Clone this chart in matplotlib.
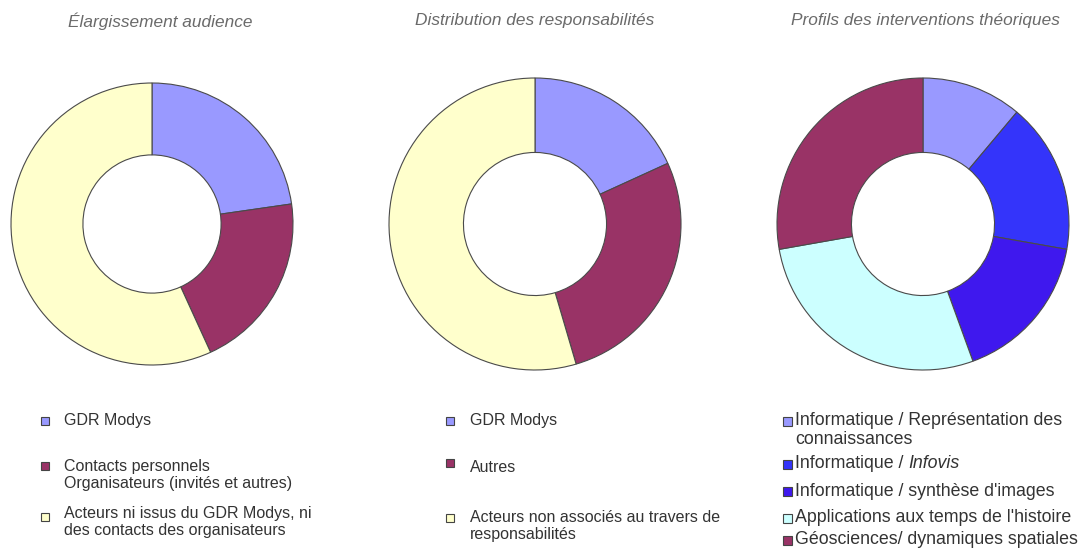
import matplotlib.pyplot as plt
from matplotlib.patches import Rectangle

W, H = 1082, 548

titles = ['Élargissement audience', 'Distribution des responsabilités',
          'Profils des interventions théoriques']

audience_labels = ['GDR Modys',
                   'Contacts personnels\nOrganisateurs (invités et autres)',
                   'Acteurs ni issus du GDR Modys, ni\ndes contacts des organisateurs']
audience_values = [10, 9, 25]

resp_labels = ['GDR Modys', 'Autres',
               'Acteurs non associés au travers de\nresponsabilités']
resp_values = [2, 3, 6]

profil_labels = ['Informatique / Représentation des\nconnaissances',
                 'Informatique / ',
                 'Informatique / synthèse d\'images',
                 'Applications aux temps de l\'histoire',
                 'Géosciences/ dynamiques spatiales']
profil_values = [2, 3, 3, 5, 5]

colors3 = ['#9999FF', '#993366', '#FFFFCC']
colors5 = ['#9999FF', '#3434FA', '#3F18EE', '#CCFFFF', '#993366']

plt.rcParams['font.family'] = ['Liberation Sans', 'DejaVu Sans']

fig = plt.figure(figsize=(W / 100, H / 100), dpi=100)


def fx(x):
    return x / W


def fy(y):
    return 1 - y / H


def donut(cx, cy, r, values, colors):
    pad = 1.03
    w = 2 * r * pad
    ax = fig.add_axes([fx(cx - w / 2), fy(cy + w / 2), w / W, w / H])
    ax.pie(values, colors=colors, startangle=90, counterclock=False,
           radius=1, wedgeprops=dict(width=0.51, edgecolor='#4a4a4a', linewidth=0.8))
    ax.set_xlim(-pad, pad)
    ax.set_ylim(-pad, pad)
    ax.set_aspect('equal')
    ax.axis('off')
    return ax


donut(152, 224, 141, audience_values, colors3)
donut(535, 224, 146, resp_values, colors3)
donut(923, 224, 146, profil_values, colors5)

for x, t in zip([160, 535, 925], titles):
    fig.text(fx(x), fy(21), t, ha='center', va='center', style='italic',
             fontsize=12.4, color='#6a6a6a')

tkw = dict(fontsize=11.5, color='#333333', va='center', ha='left', linespacing=1.22)
tkw3 = dict(fontsize=12.8, color='#333333', va='center', ha='left', linespacing=1.1)


def square(x, y, c, s=8):
    fig.patches.append(Rectangle((fx(x - s / 2), fy(y + s / 2)), s / W, s / H,
                                 transform=fig.transFigure, facecolor=c,
                                 edgecolor='#444444', linewidth=0.8))


# legend 1
for lab, c, ty, sy in zip(audience_labels, colors3, [421, 475, 522], [421, 466, 517]):
    fig.text(fx(64), fy(ty), lab, **tkw)
    square(45, sy, c)

# legend 2
for lab, c, ty, sy in zip(resp_labels, colors3, [421, 467, 526], [421, 463, 518]):
    fig.text(fx(470), fy(ty), lab, **tkw)
    square(450, sy, c)

# legend 3
for i, (lab, c, ty, sy) in enumerate(zip(profil_labels, colors5,
                                         [430, 464, 491, 518, 540],
                                         [421, 464, 491, 518, 540])):
    t = fig.text(fx(795), fy(ty), lab, **tkw3)
    square(787, sy, c, 9)
    if i == 1:
        fig.add_artist(plt.Annotation('Infovis', xy=(1, 0), xycoords=t,
                                      ha='left', va='bottom', style='italic',
                                      fontsize=12.8, color='#333333'))

fig.savefig('out.png', dpi=100, facecolor='white')
